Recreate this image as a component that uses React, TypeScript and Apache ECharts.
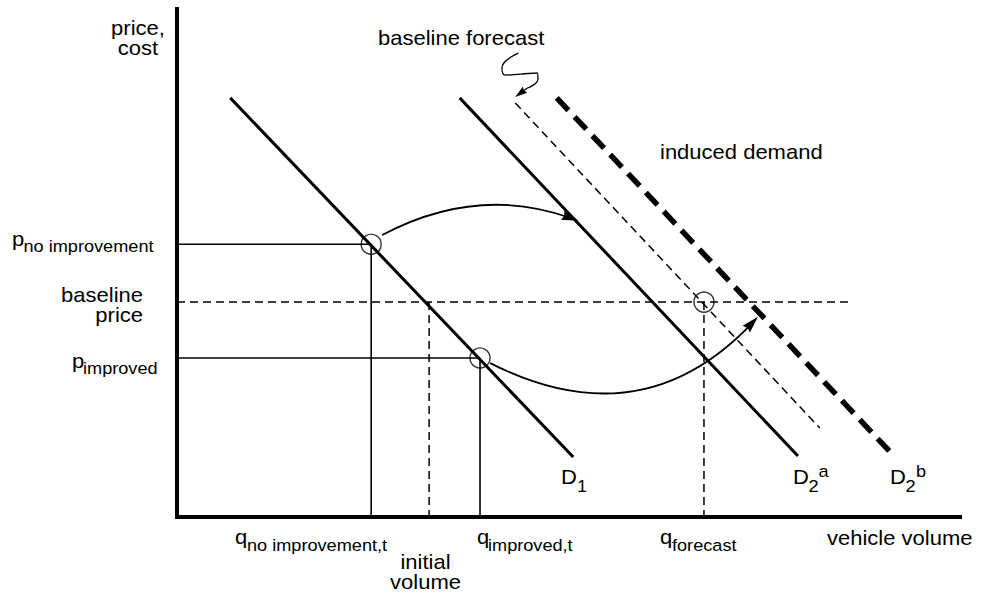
import React, { useEffect, useRef } from 'react';
import * as echarts from 'echarts';

const FONT = '"Liberation Sans", Arial, Helvetica, sans-serif';

// Data space: x = vehicle volume (0..100), y = price / cost (0..100)
const demandD1 = [[6.8, 82.5], [50.6, 11.8]];
const demandD2a = [[36.1, 82.5], [79.3, 12.0]];
const baselineForecastD = [[43.2, 81.5], [82.1, 17.5]];
const demandD2b = [[48.5, 82.5], [91.7, 11.8]];

const pNoImprovement = 53.7;
const pImproved = 31.3;
const baselinePrice = 42.3;
const baselinePriceEnd = 86.0;
const qNoImprovement = 24.8;
const qImproved = 38.7;
const initialVolume = 32.2;
const qForecast = 67.3;

const equilibria = [
  [qNoImprovement, pNoImprovement],
  [qImproved, pImproved],
  [qForecast, baselinePrice],
];

// [x start, y start, x end, y end, curveness]
const shiftArrows = [
  [26.2, 55.5, 51.3, 58.3, 0.22],
  [40.0, 30.3, 74.2, 39.4, -0.373],
];
const squiggle = [[43.6, 91.3], [41.5, 88.4], [41.9, 87.0], [43.9, 87.2], [46.0, 87.4], [46.1, 86.2], [44.7, 84.4]];
const squiggleArrow = [[44.7, 84.4, 43.2, 82.7, 0]];

// Texts
const yAxisTitle = ['price,', 'cost'];
const xAxisTitle = 'vehicle volume';
const calloutBaseline = 'baseline forecast';
const calloutInduced = 'induced demand';
const pNoImprovementLabel = ['p', 'no improvement'];
const baselinePriceLabel = ['baseline', 'price'];
const pImprovedLabel = ['p', 'improved'];
const qNoImprovementLabel = ['q', 'no improvement,t'];
const initialVolumeLabel = ['initial', 'volume'];
const qImprovedLabel = ['q', 'improved,t'];
const qForecastLabel = ['q', 'forecast'];
const curveD1Label = ['D', '1'];
const curveD2aLabel = ['D', '2', 'a'];
const curveD2bLabel = ['D', '2', 'b'];

const MAIN = 20;
const SUB = 16.5;
const SX = 1.1;

function T(text: string, x: number, y: number, size: number, align: string = 'left') {
  return {
    type: 'text',
    x,
    y,
    scaleX: SX,
    silent: true,
    z: 10,
    style: {
      text,
      fontFamily: FONT,
      fontSize: size,
      fill: '#000',
      align,
      verticalAlign: 'middle',
      textAlign: align,
      textVerticalAlign: 'middle',
    },
  };
}

function seg(data: number[][], width: number, dash?: any) {
  return {
    type: 'line',
    data,
    symbol: 'none',
    silent: true,
    clip: false,
    lineStyle: { color: '#000', width, type: dash || 'solid', cap: 'butt' },
    z: 3,
  };
}

function arrowSeries(items: number[][], width: number, headLen: number, headW: number) {
  return {
    type: 'custom',
    coordinateSystem: 'cartesian2d',
    silent: true,
    clip: false,
    z: 4,
    encode: { x: [0, 2], y: [1, 3] },
    data: items,
    renderItem: (_params: any, api: any) => {
      const a = api.coord([api.value(0), api.value(1)]);
      const b = api.coord([api.value(2), api.value(3)]);
      const c = api.value(4);
      const cx = (a[0] + b[0]) / 2 - (a[1] - b[1]) * c;
      const cy = (a[1] + b[1]) / 2 - (b[0] - a[0]) * c;
      let tx = b[0] - cx;
      let ty = b[1] - cy;
      const len = Math.hypot(tx, ty) || 1;
      tx /= len;
      ty /= len;
      const nx = -ty;
      const ny = tx;
      const bx = b[0] - tx * headLen;
      const by = b[1] - ty * headLen;
      const mx = b[0] - tx * headLen * 0.9;
      const my = b[1] - ty * headLen * 0.9;
      const points = [
        [b[0], b[1]],
        [bx + (nx * headW) / 2, by + (ny * headW) / 2],
        [mx, my],
        [bx - (nx * headW) / 2, by - (ny * headW) / 2],
      ];
      const endX = b[0] - tx * headLen * 0.5;
      const endY = b[1] - ty * headLen * 0.5;
      return {
        type: 'group',
        children: [
          {
            type: 'bezierCurve',
            shape: { x1: a[0], y1: a[1], x2: endX, y2: endY, cpx1: cx, cpy1: cy },
            style: { stroke: '#000', lineWidth: width, fill: 'none' },
          },
          {
            type: 'polygon',
            shape: { points },
            style: { fill: '#000', stroke: 'none' },
          },
        ],
      };
    },
  };
}

export default function App() {
  const ref = useRef<HTMLDivElement>(null);
  useEffect(() => {
    const chart = echarts.init(ref.current as HTMLDivElement, null, { renderer: 'svg' });
    const thinDash = [8, 5];
    const option: any = {
      animation: false,
      backgroundColor: '#fff',
      grid: { left: 177, right: 25, top: 9, bottom: 77, containLabel: false },
      xAxis: {
        type: 'value', min: 0, max: 100,
        axisLine: { show: true, onZero: false, lineStyle: { color: '#000', width: 4, cap: 'square' } },
        axisTick: { show: false }, axisLabel: { show: false }, splitLine: { show: false },
      },
      yAxis: {
        type: 'value', min: 0, max: 100,
        axisLine: { show: true, onZero: false, lineStyle: { color: '#000', width: 4, cap: 'square' } },
        axisTick: { show: false }, axisLabel: { show: false }, splitLine: { show: false },
      },
      series: [
        seg(demandD1, 3),
        seg(demandD2a, 3),
        seg(baselineForecastD, 1.5, thinDash),
        seg(demandD2b, 5.5, [17, 9]),
        seg([[0, pNoImprovement], [qNoImprovement, pNoImprovement]], 1.6),
        seg([[qNoImprovement, pNoImprovement], [qNoImprovement, 0]], 1.6),
        seg([[0, pImproved], [qImproved, pImproved]], 1.6),
        seg([[qImproved, pImproved], [qImproved, 0]], 1.6),
        seg([[0, baselinePrice], [baselinePriceEnd, baselinePrice]], 1.5, thinDash),
        seg([[initialVolume, baselinePrice], [initialVolume, 0]], 1.5, thinDash),
        seg([[qForecast, baselinePrice], [qForecast, 0]], 1.5, thinDash),
        {
          type: 'line', data: squiggle, smooth: 0.5, symbol: 'none', silent: true,
          lineStyle: { color: '#000', width: 1.3 }, z: 4,
        },
        arrowSeries(squiggleArrow, 1.3, 12, 7.5),
        arrowSeries(shiftArrows, 1.8, 17, 10),
        {
          type: 'scatter', data: equilibria, symbol: 'circle', symbolSize: 20, silent: true,
          itemStyle: { color: 'rgba(0,0,0,0)', borderColor: '#000', borderWidth: 1.4 }, z: 5,
        },
      ],
      graphic: [
        T(yAxisTitle[0], 138, 28.1, MAIN, 'center'),
        T(yAxisTitle[1], 138, 48.1, MAIN, 'center'),
        T(calloutBaseline, 378, 38.1, MAIN),
        T(calloutInduced, 660, 152.1, MAIN),
        T(pNoImprovementLabel[0], 12, 238.6, MAIN),
        T(pNoImprovementLabel[1], 23.5, 245.8, SUB),
        T(baselinePriceLabel[0], 143, 295.1, MAIN, 'right'),
        T(baselinePriceLabel[1], 143, 315.1, MAIN, 'right'),
        T(pImprovedLabel[0], 72, 360.6, MAIN),
        T(pImprovedLabel[1], 83, 367.8, SUB),
        T(qNoImprovementLabel[0], 235, 536.6, MAIN),
        T(qNoImprovementLabel[1], 247, 544.8, SUB),
        T(initialVolumeLabel[0], 425.5, 562.1, MAIN, 'center'),
        T(initialVolumeLabel[1], 425.5, 582.1, MAIN, 'center'),
        T(qImprovedLabel[0], 477, 536.6, MAIN),
        T(qImprovedLabel[1], 488, 544.8, SUB),
        T(qForecastLabel[0], 660, 536.6, MAIN),
        T(qForecastLabel[1], 672, 544.8, SUB),
        T(xAxisTitle, 827, 538.1, MAIN),
        T(curveD1Label[0], 561, 477.1, MAIN),
        T(curveD1Label[1], 577, 486.3, SUB),
        T(curveD2aLabel[0], 793, 477.1, MAIN),
        T(curveD2aLabel[1], 808.5, 486.3, SUB),
        T(curveD2aLabel[2], 818.5, 471.3, SUB),
        T(curveD2bLabel[0], 890, 477.1, MAIN),
        T(curveD2bLabel[1], 905.5, 486.3, SUB),
        T(curveD2bLabel[2], 916, 471.3, SUB),
      ],
    };
    chart.setOption(option);
    return () => chart.dispose();
  }, []);
  return (
    <div
      ref={ref}
      style={{ position: 'absolute', left: 0, top: 0, width: 985, height: 594, background: '#fff' }}
    />
  );
}
